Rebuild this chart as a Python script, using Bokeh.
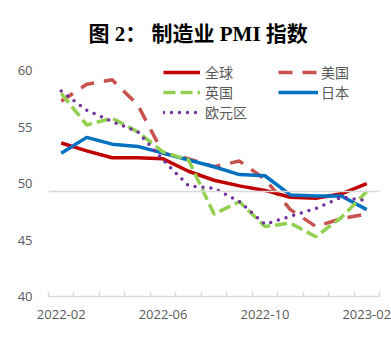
from bokeh.plotting import figure
from bokeh.models import FixedTicker, Span, Legend, LegendItem, Range1d
from bokeh.embed import file_html
from bokeh.resources import INLINE

months = ["2022-02", "2022-03", "2022-04", "2022-05", "2022-06", "2022-07", "2022-08",
          "2022-09", "2022-10", "2022-11", "2022-12", "2023-01", "2023-02"]
global_pmi = [53.6, 52.9, 52.3, 52.3, 52.2, 51.1, 50.3, 49.8, 49.4, 48.8, 48.7, 49.1, 50.0]
us_pmi = [57.3, 58.8, 59.2, 57.0, 52.7, 52.2, 51.5, 52.0, 50.4, 47.7, 46.2, 46.9, 47.3]
uk_pmi = [58.0, 55.2, 55.8, 54.6, 52.8, 52.1, 47.3, 48.4, 46.2, 46.5, 45.3, 47.0, 49.3]
japan_pmi = [52.7, 54.1, 53.5, 53.3, 52.7, 52.1, 51.5, 50.8, 50.7, 49.0, 48.9, 48.9, 47.7]
euro_pmi = [58.2, 56.5, 55.5, 54.6, 52.1, 49.8, 49.6, 48.4, 46.4, 47.1, 47.8, 48.8, 48.5]
tick_labels = ["2022-02", "2022-06", "2022-10", "2023-02"]
ref_level = 49.3

xs = list(range(len(months)))

p = figure(width=391, height=350, output_backend="svg", toolbar_location=None,
           x_range=Range1d(-0.5, len(months) - 0.5), y_range=Range1d(40, 61),
           min_border_left=48, min_border_right=12, min_border_bottom=54, min_border_top=59)
p.outline_line_color = None
p.background_fill_color = "white"
p.border_fill_color = "white"
p.grid.visible = False

p.title.text = "图 2： 制造业 PMI 指数"
p.title.text_font = "'Liberation Serif', 'Noto Sans CJK SC'"
p.title.text_font_size = "21px"
p.title.text_font_style = "bold"
p.title.align = "left"
p.title.offset = 40
p.title.text_color = "#000000"
p.title.standoff = 28

p.add_layout(Span(location=ref_level, dimension="width", line_color="#d9d9d9", line_width=1.5))

r_us = p.line(xs, us_pmi, line_color="#C9524F", line_width=3.5, line_dash="14 10")
r_gl = p.line(xs, global_pmi, line_color="#C00000", line_width=3.5)
r_jp = p.line(xs, japan_pmi, line_color="#0070C0", line_width=3.5)
r_uk = p.line(xs, uk_pmi, line_color="#92D050", line_width=3.5, line_dash="12 5")
r_eu = p.line(xs, euro_pmi, line_color="#7030A0", line_width=3.5, line_dash="0 8", line_cap="round")

# axes
xa = p.xaxis[0]
xa.ticker = FixedTicker(ticks=[0, 4, 8, 12], minor_ticks=[i - 0.5 for i in range(len(months) + 1)])
xa.major_label_overrides = {0: tick_labels[0], 4: tick_labels[1], 8: tick_labels[2], 12: tick_labels[3]}
xa.major_tick_in = 0
xa.major_tick_out = 0
xa.minor_tick_in = 5
xa.minor_tick_out = 0
xa.minor_tick_line_color = "#d9d9d9"
xa.minor_tick_line_width = 1.5
xa.axis_line_color = "#d9d9d9"
xa.axis_line_width = 1.5
xa.major_label_text_font = "Open Sans"
xa.major_label_text_font_size = "13px"
xa.major_label_text_color = "#595959"
xa.major_label_standoff = 13

ya = p.yaxis[0]
ya.ticker = FixedTicker(ticks=[40, 45, 50, 55, 60])
ya.axis_line_color = None
ya.major_tick_line_color = None
ya.minor_tick_line_color = None
ya.major_label_text_font = "Open Sans"
ya.major_label_text_font_size = "13px"
ya.major_label_text_color = "#595959"
ya.major_label_standoff = 10

common = dict(border_line_color=None, background_fill_alpha=0, padding=0, margin=0,
              label_text_font="Noto Sans CJK SC", label_text_font_size="14px",
              label_text_color="#595959", glyph_height=16, label_height=16, spacing=0)
leg1 = Legend(items=[LegendItem(label="全球", renderers=[r_gl]),
                     LegendItem(label="英国", renderers=[r_uk]),
                     LegendItem(label="欧元区", renderers=[r_eu])],
              location=(115, 174), glyph_width=37, label_standoff=5, **common)
leg2 = Legend(items=[LegendItem(label="美国", renderers=[r_us]),
                     LegendItem(label="日本", renderers=[r_jp])],
              location=(230, 194), glyph_width=40, label_standoff=3, **common)
p.add_layout(leg1)
p.add_layout(leg2)

open("out.html", "w").write(file_html(p, INLINE))
